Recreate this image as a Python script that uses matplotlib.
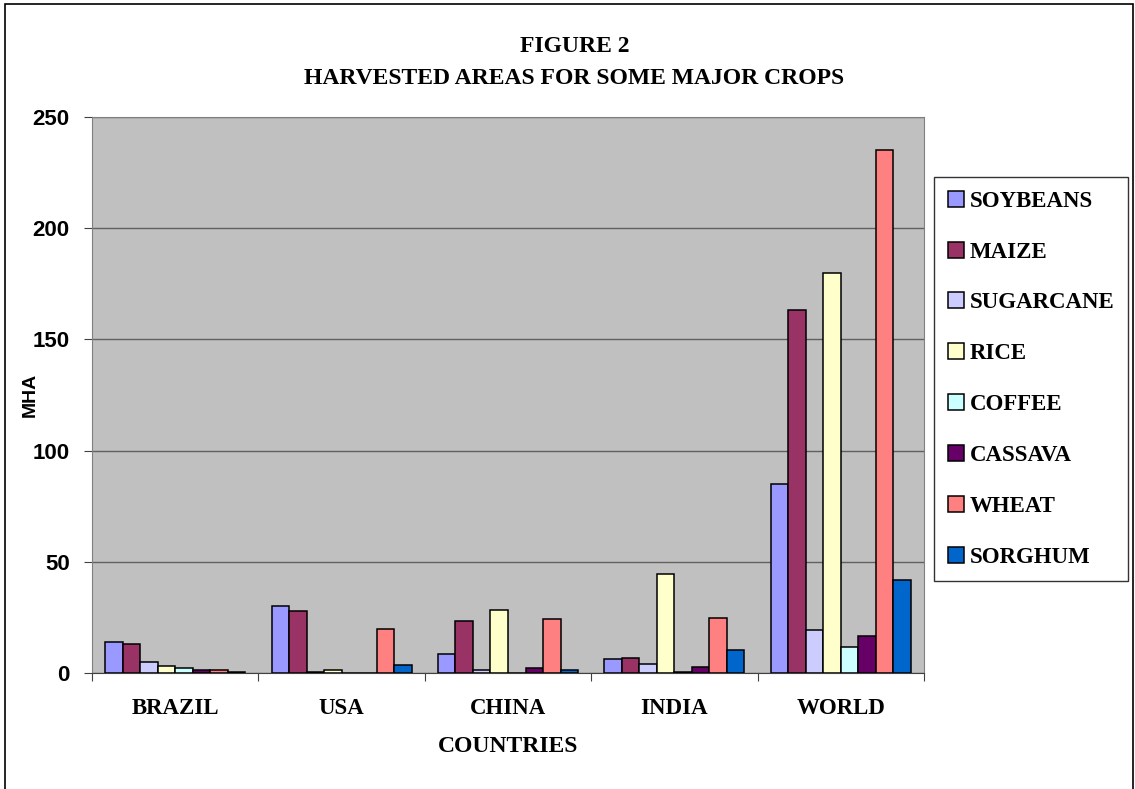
import numpy as np
import matplotlib.pyplot as plt
from matplotlib.patches import Rectangle

countries = ['BRAZIL', 'USA', 'CHINA', 'INDIA', 'WORLD']
crops = ['SOYBEANS', 'MAIZE', 'SUGARCANE', 'RICE', 'COFFEE', 'CASSAVA', 'WHEAT', 'SORGHUM']

# harvested area, million ha, one list per crop (order follows countries)
soybeans = [14.0, 30.0, 8.7, 6.1, 85.0]
maize = [13.0, 28.0, 23.4, 6.6, 163.0]
sugarcane = [4.9, 0.3, 1.2, 3.9, 19.3]
rice = [3.1, 1.3, 28.5, 44.4, 180.0]
coffee = [2.2, 0.0, 0.0, 0.4, 11.7]
cassava = [1.5, 0.0, 2.4, 2.5, 16.6]
wheat = [1.5, 20.0, 24.4, 24.9, 235.0]
sorghum = [0.6, 3.6, 1.2, 10.3, 41.8]
series = [soybeans, maize, sugarcane, rice, coffee, cassava, wheat, sorghum]

colors = ['#9999FF', '#993366', '#CCCCFF', '#FFFFCC', '#CCFFFF', '#660066', '#FF8080', '#0066CC']

serif = 'Liberation Serif'
sans = 'Liberation Sans'

fig = plt.figure(figsize=(11.35, 7.89), dpi=100)
ax = fig.add_axes([92 / 1135, 1 - 673 / 789, 832 / 1135, 556 / 789])
ax.set_facecolor('#C0C0C0')

# outer chart frame
fig.patches.append(Rectangle((5 / 1135, -0.01), 1128 / 1135, 1 - 4 / 789 + 0.01,
                             transform=fig.transFigure, fill=False, edgecolor='black', lw=1.2))

width = 1 / 9.5
x = np.arange(len(countries))
for i, (name, vals) in enumerate(zip(crops, series)):
    offs = (i - 3.5) * width
    ax.bar(x + 0.5 + offs, vals, width=width, color=colors[i], edgecolor='black',
           linewidth=1.1, label=name, zorder=3)

ax.set_xlim(0, 5)
ax.set_ylim(0, 250)
ax.set_yticks([0, 50, 100, 150, 200, 250])
ax.yaxis.grid(True, color='#606060', linewidth=1.0, zorder=1)
ax.set_axisbelow(True)

ax.set_xticks(np.arange(6))
ax.set_xticklabels([])
ax.set_xticks(x + 0.5, minor=True)
ax.set_xticklabels(countries, minor=True, fontfamily=serif, fontweight='bold', fontsize=16.5)
ax.tick_params(axis='x', which='major', length=6, color='#404040', direction='out')
ax.tick_params(axis='x', which='minor', length=0, pad=18)
ax.tick_params(axis='y', length=6, direction='out', pad=10, color='#404040')
for lab in ax.get_yticklabels():
    lab.set_fontfamily(sans)
    lab.set_fontweight('bold')
    lab.set_fontsize(16)

for side in ['left', 'top', 'right']:
    ax.spines[side].set_color('#808080')
ax.spines['bottom'].set_color('#404040')

fig.text(30 / 1135, 1 - 395 / 789, 'MHA', rotation=90, ha='center', va='center',
         fontfamily=sans, fontweight='bold', fontsize=14)

fig.text(0.506, 1 - 47 / 789, 'FIGURE 2', ha='center', va='center',
         fontfamily=serif, fontweight='bold', fontsize=17)
fig.text(0.506, 1 - 78 / 789, 'HARVESTED AREAS FOR SOME MAJOR CROPS', ha='center', va='center',
         fontfamily=serif, fontweight='bold', fontsize=17)
fig.text(508 / 1135, 1 - 746 / 789, 'COUNTRIES', ha='center', va='center',
         fontfamily=serif, fontweight='bold', fontsize=17)

leg = ax.legend(loc='upper left', bbox_to_anchor=(934 / 1135, 1 - 177 / 789),
                bbox_transform=fig.transFigure, frameon=True, fancybox=False,
                prop={'family': serif, 'weight': 'bold', 'size': 16.5},
                handlelength=0.7, handleheight=0.7, handletextpad=0.25,
                labelspacing=1.3, borderpad=0.6, borderaxespad=0)
leg.get_frame().set_edgecolor('black')
leg.get_frame().set_linewidth(1.0)

fig.savefig('out.png', dpi=100)
